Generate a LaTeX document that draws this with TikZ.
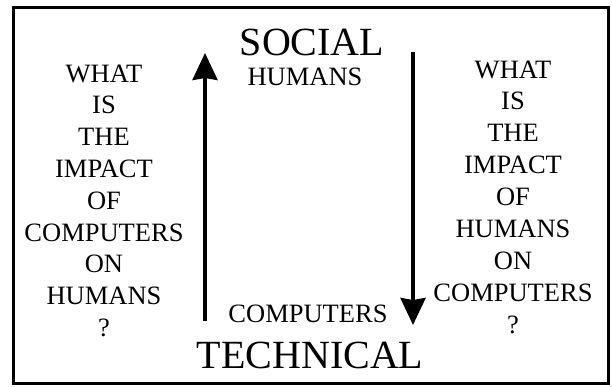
\documentclass[tikz,border=0pt]{standalone}
\usepackage{fontspec}
\setmainfont{Liberation Serif}
\usepackage{tikz}
\usetikzlibrary{arrows.meta, positioning}

\begin{document}
\begin{tikzpicture}[x=1pt, y=-1pt,
    big/.style={anchor=base, inner sep=0pt, font=\fontsize{40}{48}\selectfont},
    word/.style={anchor=base, inner sep=0pt, font=\fontsize{26.5}{30}\selectfont},
    flow/.style={line width=3.4pt, -{Stealth[length=27pt, width=25pt, inset=2pt]}}]
    \useasboundingbox (0,0) rectangle (612,386);
    % =================================================================
    % 1. Khung ngoài
    % =================================================================
    \draw[line width=3pt] (13,7) rectangle (608,383);

    % Hai đầu trục: xã hội / kỹ thuật
    \node[big] (social) at (312,55) {SOCIAL};
    \node[big] (technical) at (310,368) {TECHNICAL};
    \node[word] (humans) at (305,85) {HUMANS};
    \node[word] (computers) at (308,322) {COMPUTERS};

    % Hai mũi tên
    \coordinate (upfoot) at (205,321);
    \coordinate (uptip) at (205,53);
    \coordinate (downtop) at (413,52);
    \coordinate (downtip) at (413,325);
    \draw[flow] (upfoot) -- (uptip);
    \draw[flow] (downtop) -- (downtip);

    % Cột chữ bên trái
    \foreach \w [count=\i] in {WHAT,IS,THE,IMPACT,OF,COMPUTERS,ON,HUMANS,?}
        \node[word] (left\i) at (104, 82+31.8*\i-31.8) {\w};
    % Cột chữ bên phải
    \foreach \w [count=\i] in {WHAT,IS,THE,IMPACT,OF,HUMANS,ON,COMPUTERS,?}
        \node[word] (right\i) at (513, 78+31.9*\i-31.9) {\w};
\end{tikzpicture}
\end{document}
